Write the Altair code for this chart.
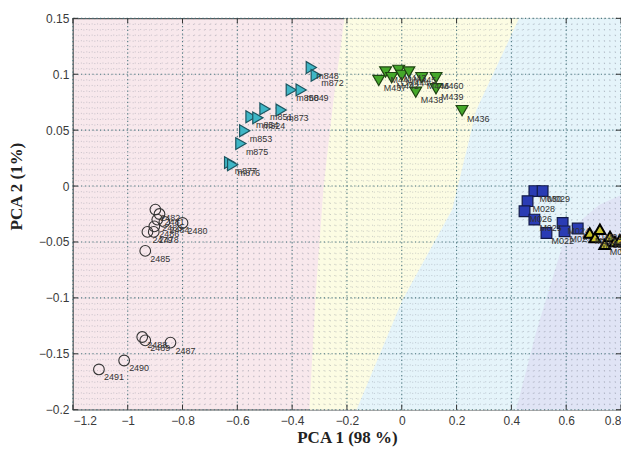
import altair as alt
import pandas as pd
import numpy as np

# ---------------- data ----------------
circ_x = [-0.899, -0.884, -0.892, -0.866, -0.800, -0.903, -0.928, -0.905, -0.936, -0.947, -0.936, -0.844, -1.013, -1.105]
circ_y = [-0.021, -0.025, -0.030, -0.032, -0.033, -0.036, -0.041, -0.041, -0.058, -0.135, -0.138, -0.140, -0.156, -0.164]
circ_l = ["2482", "2481", "2483", "2484", "2480", "2486", "2479", "2478", "2485", "2488", "2489", "2487", "2490", "2491"]

cyan_x = [-0.330, -0.312, -0.403, -0.367, -0.499, -0.440, -0.550, -0.525, -0.573, -0.587, -0.628, -0.617]
cyan_y = [0.106, 0.099, 0.086, 0.086, 0.069, 0.068, 0.062, 0.061, 0.0495, 0.038, 0.021, 0.019]
cyan_l = ["m848", "m872", "m850", "m849", "m851", "m873", "m854", "m824", "m853", "m875", "m877", "m876"]

green_x = [-0.084, -0.059, -0.037, -0.011, 0.000, 0.026, 0.073, 0.125, 0.051, 0.125, 0.220]
green_y = [0.0945, 0.102, 0.097, 0.1035, 0.099, 0.102, 0.097, 0.097, 0.084, 0.087, 0.0675]
green_l = ["M437", "M441", "M442", "M443", "M444", "M445", "M446", "M460", "M438", "M439", "M436"]

sq_x = [0.484, 0.514, 0.459, 0.448, 0.484, 0.528, 0.587, 0.594, 0.642]
sq_y = [-0.0045, -0.0045, -0.0135, -0.0225, -0.030, -0.042, -0.033, -0.0405, -0.038]
sq_l = ["M030", "M029", "M028", "M026", "M025", "M022", "M024", "M023", "M021"]

yel_x = [0.686, 0.705, 0.723, 0.741, 0.760, 0.778, 0.796]
yel_y = [-0.042, -0.046, -0.0387, -0.052, -0.045, -0.0495, -0.048]
yel_l = ["M011", "M012", "M013", "M014", "M015", "M016", "M018"]

# decision-region boundaries (y, x)
b1_y = [-0.2, -0.1, 0.0, 0.075, 0.15]
b1_x = [-0.337, -0.315, -0.285, -0.25, -0.209]
b2_y = [-0.2, -0.102, -0.021, 0.068, 0.15]
b2_x = [-0.165, 0.002, 0.184, 0.272, 0.428]
b3_y = [-0.2, -0.131, -0.042, -0.017, -0.008]
b3_x = [0.417, 0.49, 0.60, 0.72, 0.80]

x_ticks = [-1.2, -1.0, -0.8, -0.6, -0.4, -0.2, 0.0, 0.2, 0.4, 0.6, 0.8]
y_ticks = [-0.2, -0.15, -0.1, -0.05, 0.0, 0.05, 0.1, 0.15]
x_min, x_max = -1.2, 0.8
y_min, y_max = -0.2, 0.15

# ---------------- chart ----------------
W, H = 549, 392
xs = alt.Scale(domain=[x_min, x_max], nice=False, zero=False)
ys = alt.Scale(domain=[y_min, y_max], nice=False, zero=False)

x_axis = alt.Axis(values=x_ticks, format=".2~f", ticks=False, domain=False, grid=False,
                  labelFont="Liberation Sans", labelFontSize=12, labelColor="#3a3a3a", labelPadding=6,
                  title="PCA 1 (98 %)", titleFont="Liberation Serif", titleFontSize=17, titleFontWeight="bold",
                  titleColor="#222", titleY=20, titleBaseline="top")
y_axis = alt.Axis(values=y_ticks, format=".2~f", ticks=False, domain=False, grid=False,
                  labelFont="Liberation Sans", labelFontSize=12, labelColor="#3a3a3a", labelPadding=4,
                  title="PCA 2 (1%)", titleFont="Liberation Serif", titleFontSize=17, titleFontWeight="bold",
                  titleColor="#222", titleX=-47, titleY=168)


def X(f):
    return alt.X(f, scale=xs, axis=x_axis, stack=None)


def Y(f):
    return alt.Y(f, scale=ys, axis=y_axis, stack=None)


regions = []
for name, by, bx in [("yellow", b1_y, b1_x), ("blue", b2_y, b2_x), ("lav", b3_y, b3_x)]:
    for yy, xx in zip(by, bx):
        regions.append({"reg": name, "y": yy, "x": xx, "x2": x_max})
reg_df = pd.DataFrame(regions)

reg_colors = {"yellow": "#fcfce3", "blue": "#e5f4fa", "lav": "#e0e4f5"}
area_layers = []
for name in ["yellow", "blue", "lav"]:
    area_layers.append(
        alt.Chart(reg_df[reg_df.reg == name]).mark_area(orient="horizontal", color=reg_colors[name],
                                                         opacity=1, line=False).encode(
            y=Y("y:Q"),
            x=X("x:Q"),
            x2="x2:Q",
        )
    )

# minor dotted texture (style)
minor_vx = pd.DataFrame({"v": np.round(np.arange(x_min, x_max + 1e-9, 0.02), 4)})
minor_hy = pd.DataFrame({"v": np.round(np.arange(y_min, y_max + 1e-9, 0.005), 4)})
minor_v = alt.Chart(minor_vx).mark_rule(color="#7a8090", opacity=0.38, strokeDash=[1, 4.6], strokeWidth=1).encode(
    x=X("v:Q"))
minor_h = alt.Chart(minor_hy).mark_rule(color="#7a8090", opacity=0.38, strokeDash=[1, 4.4], strokeWidth=1).encode(
    y=Y("v:Q"))

xt_df = pd.DataFrame({"v": x_ticks})
yt_df = pd.DataFrame({"v": y_ticks})
major_v = alt.Chart(xt_df).mark_rule(color="#3f6f78", opacity=0.9, strokeDash=[1.2, 2.6], strokeWidth=1.1).encode(
    x=X("v:Q"))
major_h = alt.Chart(yt_df).mark_rule(color="#3f6f78", opacity=0.9, strokeDash=[1.2, 2.6], strokeWidth=1.1).encode(
    y=Y("v:Q"))

tick_col = "#333333"
tb = alt.Chart(xt_df).mark_rule(color=tick_col).encode(x=X("v:Q"), y=alt.value(H), y2=alt.value(H - 5))
tt = alt.Chart(xt_df).mark_rule(color=tick_col).encode(x=X("v:Q"), y=alt.value(0), y2=alt.value(5))
tl = alt.Chart(yt_df).mark_rule(color=tick_col).encode(y=Y("v:Q"), x=alt.value(0), x2=alt.value(5))
tr = alt.Chart(yt_df).mark_rule(color=tick_col).encode(y=Y("v:Q"), x=alt.value(W), x2=alt.value(W - 5))


def pts(xv, yv, lv, shape, fill, stroke, sw, size, filled=True):
    df = pd.DataFrame({"x": xv, "y": yv, "lab": lv})
    if filled:
        m = alt.Chart(df).mark_point(shape=shape, filled=True, fill=fill, stroke=stroke, strokeWidth=sw, size=size, opacity=1)
    else:
        m = alt.Chart(df).mark_point(shape=shape, filled=False, stroke=stroke, strokeWidth=sw, size=size, opacity=1)
    p = m.encode(x=X("x:Q"), y=Y("y:Q"))
    t = alt.Chart(df).mark_text(align="left", baseline="middle", dx=5, dy=8, fontSize=9,
                                font="Liberation Sans", color="#333").encode(
        x=X("x:Q"), y=Y("y:Q"), text="lab:N")
    return [p, t]


layers = area_layers + [minor_v, minor_h, major_v, major_h, tb, tt, tl, tr]
layers += pts(circ_x, circ_y, circ_l, "circle", None, "#333333", 1.1, 115, filled=False)
layers += pts(cyan_x, cyan_y, cyan_l, "triangle-right", "#3fb6c6", "#1d5560", 1.2, 140)
layers += pts(green_x, green_y, green_l, "triangle-down", "#45a82a", "#1f4412", 1.2, 140)
layers += pts(sq_x, sq_y, sq_l, "square", "#2a3cb4", "#121a48", 1.2, 115)
layers += pts(yel_x, yel_y, yel_l, "triangle-up", "#c9c22a", "#000000", 2.0, 120)

chart = alt.layer(*layers).properties(
    width=W, height=H,
    autosize=alt.AutoSizeParams(type="none"),
    padding={"left": 65, "top": 10, "right": 0, "bottom": 42},
).configure_view(stroke="#555555", strokeWidth=1.2, fill="#f8e8ec")

chart.save("out.html", embed_options={"renderer": "svg", "actions": False})
